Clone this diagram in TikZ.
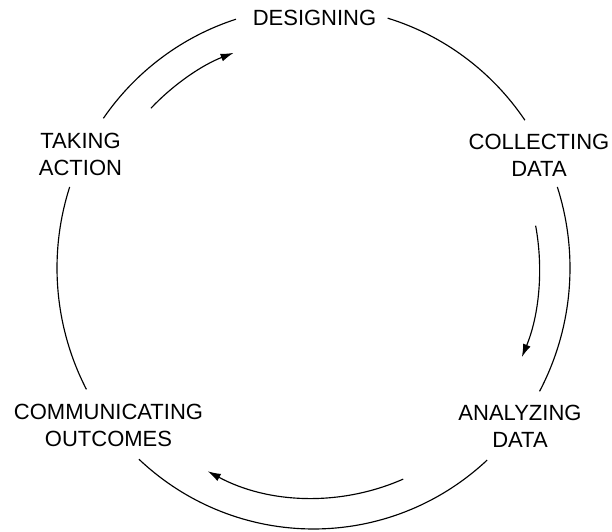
\documentclass[tikz,border=0pt]{standalone}
\usepackage{fontspec}
\setmainfont{Liberation Sans}
\usetikzlibrary{arrows.meta}

\begin{document}
\begin{tikzpicture}[x=1pt,y=1pt,line width=1.15pt,
        lab/.style={font=\fontsize{22}{27}\selectfont,align=center},
        cyc/.style={-{Latex[length=13pt,width=8pt]}}]
        \useasboundingbox (-313.5,-263) rectangle (298.5,268);
        % stages of the cycle
        \node[lab] (designing) at(1,250){DESIGNING};
        \node[lab] (collecting) at(225.5,113){COLLECTING\\DATA};
        \node[lab] (analyzing) at(206.5,-158.5){ANALYZING\\DATA};
        \node[lab] (communicating) at(-205,-157.5){COMMUNICATING\\OUTCOMES};
        \node[lab] (taking) at(-233,113.5){TAKING\\ACTION};
        % outer ring, broken at the labels
        \draw (145:256.5 and 261) arc[start angle=145,end angle=107.6,x radius=256.5,y radius=261];
        \draw (73.2:256.5 and 261) arc[start angle=73.2,end angle=34.5,x radius=256.5,y radius=261];
        \draw (18.1:256.5 and 261) arc[start angle=18.1,end angle=-28.2,x radius=256.5,y radius=261];
        \draw (-47.4:256.5 and 261) arc[start angle=-47.4,end angle=-132.9,x radius=256.5,y radius=261];
        \draw (207.7:256.5 and 261) arc[start angle=207.7,end angle=161.9,x radius=256.5,y radius=261];
        % inner arrows
        \draw[cyc] (136:226 and 230) arc[start angle=136,end angle=110.7,x radius=226,y radius=230];
        \draw[cyc] (10.6:226 and 230) arc[start angle=10.6,end angle=-22.8,x radius=226,y radius=230];
        \draw[cyc] (-66.6:226 and 230) arc[start angle=-66.6,end angle=-117.9,x radius=226,y radius=230];
    \end{tikzpicture}
\end{document}
